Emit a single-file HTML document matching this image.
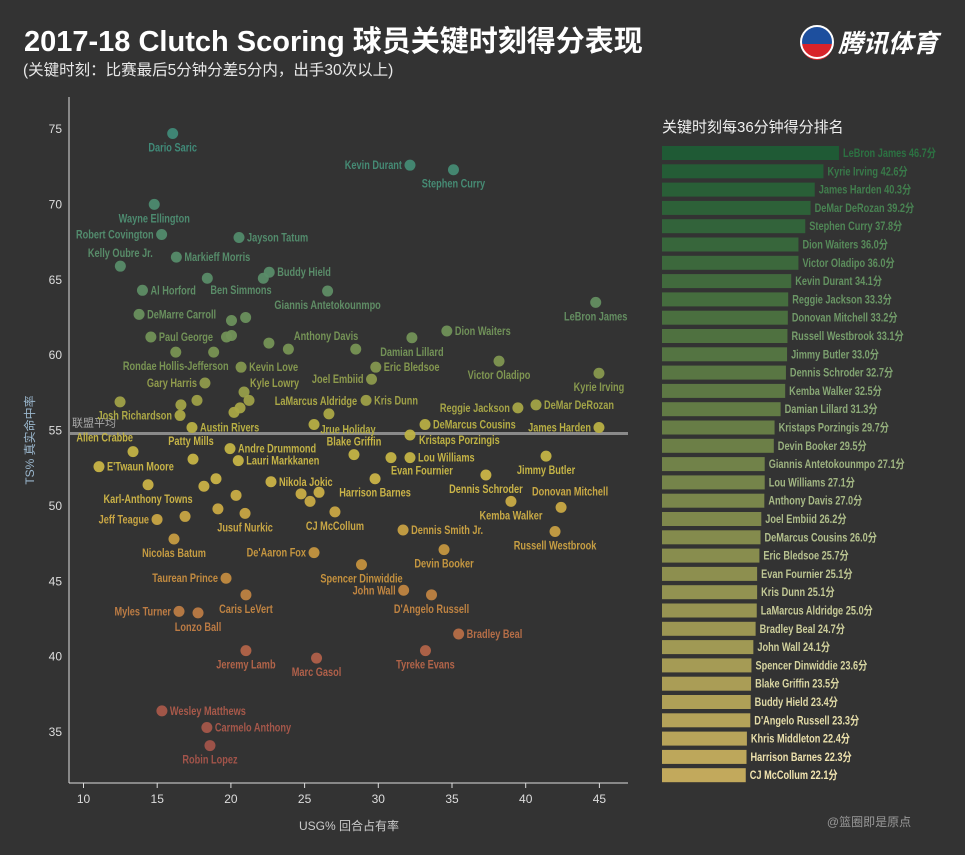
<!DOCTYPE html>
<html><head><meta charset="utf-8">
<style>
html,body{margin:0;padding:0;background:#333333;width:965px;height:855px;overflow:hidden}
svg{display:block}
text{font-family:"Liberation Sans Narrow","Liberation Sans","Noto Sans CJK SC",sans-serif}
.cjk{font-family:"Liberation Sans","Noto Sans CJK SC",sans-serif}
</style></head>
<body>
<svg id="chart" width="965" height="855" viewBox="0 0 965 855" xmlns="http://www.w3.org/2000/svg">
<rect width="965" height="855" fill="#333333"/>
<text class="cjk" x="24" y="51" font-size="29" font-weight="bold" fill="#ffffff">2017-18 Clutch Scoring 球员关键时刻得分表现</text>
<text class="cjk" x="23" y="75" font-size="15.5" fill="#e8e8e8">(关键时刻：比赛最后5分钟分差5分内，出手30次以上)</text>
<g>
<circle cx="817" cy="42" r="16" fill="#1d4f9e"/>
<path d="M801,44 A16,16 0 0 0 833,44 Z" fill="#d8232a"/>
<circle cx="817" cy="42" r="16" fill="none" stroke="#fff" stroke-width="2"/>
<text class="cjk" x="838" y="52" font-size="25" font-weight="bold" font-style="italic" fill="#ffffff">腾讯体育</text>
</g>
<g id="axes"></g>
<g id="points"></g>
<g id="bars"></g>
<text class="cjk" x="349" y="830" font-size="12" fill="#cccccc" text-anchor="middle">USG% 回合占有率</text>
<text class="cjk" x="0" y="0" font-size="12" fill="#9ab6cc" text-anchor="middle" transform="translate(34,440) rotate(-90)">TS% 真实命中率</text>
<text class="cjk" x="662" y="132" font-size="15" fill="#f0f0f0">关键时刻每36分钟得分排名</text>
<text class="cjk" x="869" y="826" font-size="12" fill="#999999" text-anchor="middle">@篮圈即是原点</text>
</svg>
<script>
const NS="http://www.w3.org/2000/svg";
const xTicks=[10,15,20,25,30,35,40,45];
const yTicks=[35,40,45,50,55,60,65,70,75];
const leagueAvgTS=54.8;
const players=["Dario Saric","Kevin Durant","Stephen Curry","Wayne Ellington","Robert Covington","Jayson Tatum","Markieff Morris","Kelly Oubre Jr.","Buddy Hield","","Ben Simmons","Al Horford","Giannis Antetokounmpo","LeBron James","DeMarre Carroll","","","Paul George","","","Dion Waiters","Damian Lillard","Anthony Davis","","","Rondae Hollis-Jefferson","","Kevin Love","Eric Bledsoe","Victor Oladipo","Joel Embiid","Kyrie Irving","Gary Harris","Kyle Lowry","","","","","","Josh Richardson","","LaMarcus Aldridge","Jrue Holiday","Kris Dunn","Reggie Jackson","DeMar DeRozan","DeMarcus Cousins","James Harden","Austin Rivers","Kristaps Porzingis","Allen Crabbe","Patty Mills","Andre Drummond","E'Twaun Moore","Lauri Markkanen","Blake Griffin","Evan Fournier","Lou Williams","Jimmy Butler","Harrison Barnes","Dennis Schroder","Kemba Walker","Donovan Mitchell","","","Karl-Anthony Towns","Nikola Jokic","","","","","","Jeff Teague","","Jusuf Nurkic","CJ McCollum","Dennis Smith Jr.","Russell Westbrook","Nicolas Batum","De'Aaron Fox","Devin Booker","Spencer Dinwiddie","Taurean Prince","Caris LeVert","John Wall","D'Angelo Russell","Myles Turner","Lonzo Ball","Bradley Beal","Jeremy Lamb","Marc Gasol","Tyreke Evans","Wesley Matthews","Carmelo Anthony","Robin Lopez"];
const usg=[16.05,32.15,35.1,14.8,15.3,20.55,16.3,12.5,22.6,22.2,18.4,14.0,26.56,44.75,13.77,20.04,21.0,14.57,19.7,20.04,34.65,32.28,22.58,23.9,28.47,16.26,18.83,20.69,29.83,38.19,29.54,44.97,18.24,20.89,21.23,20.62,20.21,17.7,16.61,16.55,12.48,26.65,25.64,29.17,39.47,40.7,33.17,44.97,17.36,32.15,13.36,17.43,19.94,11.05,20.5,28.35,30.86,32.15,41.38,29.78,37.3,39.0,42.4,18.99,18.17,14.38,22.72,20.35,24.76,25.98,25.37,19.12,14.99,16.89,20.96,27.06,31.68,41.99,16.14,25.64,34.46,28.86,19.67,21.02,31.72,33.61,16.48,17.77,35.45,21.02,25.81,33.2,15.32,18.37,18.58];
const ts=[74.7,72.6,72.3,70.0,68.0,67.8,66.5,65.9,65.5,65.1,65.1,64.3,64.25,63.5,62.7,62.3,62.5,61.2,61.2,61.3,61.6,61.15,60.8,60.4,60.4,60.2,60.2,59.2,59.2,59.6,58.4,58.8,58.15,57.55,57.0,56.5,56.2,57.0,56.7,56.0,56.9,56.1,55.4,57.0,56.5,56.7,55.4,55.2,55.2,54.7,53.6,53.1,53.8,52.6,53.0,53.4,53.2,53.2,53.3,51.8,52.05,50.3,49.9,51.8,51.3,51.4,51.6,50.7,50.8,50.9,50.3,49.8,49.1,49.3,49.5,49.6,48.4,48.3,47.8,46.9,47.1,46.1,45.2,44.1,44.4,44.1,43.0,42.9,41.5,40.4,39.9,40.4,36.4,35.3,34.1];
const labelPlacement=["b","l","b","b","l","r","r","t","r","","ben","r","b","b","r","","","r","","","r","b","ad","","","b","","r","r","b","l","b","l","kl","","","","","","l","","lma","jh","r","l","r","r","l","r","kp","ac","pm","r","r","r","t","ef","r","b","b","b","b","dm","","","b","r","","","","","","l","","b","b","r","b","b","l","b","b","l","b","l","b","l","b","r","b","b","b","r","r","b"];
const customLabel={ben:[3,16,"start"],ad:[25,-3,"start"],kl:[6,-5,"start"],lma:[-13,-9,"middle"],jh:[34,9,"middle"],kp:[9,9,"start"],ac:[0,-10,"end"],pm:[-2,-14,"middle"],ef:[0,17,"start"],dm:[9,-12,"middle"]};

const barNames=["LeBron James","Kyrie Irving","James Harden","DeMar DeRozan","Stephen Curry","Dion Waiters","Victor Oladipo","Kevin Durant","Reggie Jackson","Donovan Mitchell","Russell Westbrook","Jimmy Butler","Dennis Schroder","Kemba Walker","Damian Lillard","Kristaps Porzingis","Devin Booker","Giannis Antetokounmpo","Lou Williams","Anthony Davis","Joel Embiid","DeMarcus Cousins","Eric Bledsoe","Evan Fournier","Kris Dunn","LaMarcus Aldridge","Bradley Beal","John Wall","Spencer Dinwiddie","Blake Griffin","Buddy Hield","D'Angelo Russell","Khris Middleton","Harrison Barnes","CJ McCollum"];
const barValues=[46.7,42.6,40.3,39.2,37.8,36.0,36.0,34.1,33.3,33.2,33.1,33.0,32.7,32.5,31.3,29.7,29.5,27.1,27.1,27.0,26.2,26.0,25.7,25.1,25.1,25.0,24.7,24.1,23.6,23.5,23.4,23.3,22.4,22.3,22.1];

const xS=v=>83.5+(v-10)*14.74;
const yS=v=>129+(75-v)*15.075;
const barX=662, barScale=3.79, barTop=146, barPitch=18.3, barH=14;
const NARROW=0.8;

function hex(c){return [parseInt(c.slice(1,3),16),parseInt(c.slice(3,5),16),parseInt(c.slice(5,7),16)];}
function mix(a,b,t){const A=hex(a),B=hex(b);return "rgb("+A.map((v,i)=>Math.round(v+(B[i]-v)*t)).join(",")+")";}
const cStops=[[34,"#a2544a"],[40,"#b0604a"],[43,"#bc7c44"],[46,"#c4903e"],[49,"#c8a444"],[52,"#cbb548"],[55,"#bcb244"],[57,"#9ea048"],[60,"#7a9452"],[65,"#5a8c68"],[75,"#3f8a78"]];
function tsColor(v){for(let i=0;i<cStops.length-1;i++){if(v<=cStops[i+1][0]){const t=Math.max(0,(v-cStops[i][0])/(cStops[i+1][0]-cStops[i][0]));return mix(cStops[i][1],cStops[i+1][1],t);}}return cStops[cStops.length-1][1];}
function el(tag,attrs,parent){const e=document.createElementNS(NS,tag);for(const k in attrs)e.setAttribute(k,attrs[k]);parent.appendChild(e);return e;}

const axes=document.getElementById("axes");
const yAxisLine=el("line",{x1:69,y1:97,x2:69,y2:783,stroke:"#dddddd","stroke-width":1},axes);


const xAxisLine=el("line",{x1:69,y1:783,x2:628,y2:783,stroke:"#dddddd","stroke-width":1},axes);


xTicks.forEach(v=>{
  const t=el("line",{x1:xS(v),y1:783,x2:xS(v),y2:788,stroke:"#dddddd"},axes);
  
  
  const l=el("text",{x:xS(v),y:803,"font-size":12,fill:"#dddddd","text-anchor":"middle"},axes);
  l.textContent=v;
  
  
});
yTicks.forEach(v=>{
  const l=el("text",{x:62,y:yS(v)+4,"font-size":12,fill:"#dddddd","text-anchor":"end"},axes);
  l.textContent=v;
  
  
});
const avg=el("line",{x1:69,y1:yS(leagueAvgTS),x2:628,y2:yS(leagueAvgTS),stroke:"#8a8a8a","stroke-width":3},axes);


const avgL=el("text",{x:72,y:yS(leagueAvgTS)-7,"font-size":11,fill:"#aaaaaa",class:"cjk"},axes);
avgL.textContent="联盟平均";



const pts=document.getElementById("points");
usg.forEach((u,i)=>{
  const cx=xS(u), cy=yS(ts[i]), col=tsColor(ts[i]);
  const c=el("circle",{cx:cx,cy:cy,r:5.5,fill:col,"fill-opacity":0.95},pts);
  
  
  if(!players[i])return;
  const p=labelPlacement[i];let dx=0,dy=0,anc="middle";
  if(p==="r"){dx=8;dy=4;anc="start";}
  else if(p==="l"){dx=-8;dy=4;anc="end";}
  else if(p==="b"){dx=0;dy=18;}
  else if(p==="t"){dx=0;dy=-9;}
  else if(customLabel[p]){[dx,dy,anc]=customLabel[p];}
  const t=el("text",{x:0,y:0,transform:"translate("+(cx+dx)+","+(cy+dy)+") scale("+NARROW+",1)","font-size":11.5,"font-weight":"bold",fill:col,"text-anchor":anc},pts);
  t.textContent=players[i];
  
  
});

const bars=document.getElementById("bars");
const n=barValues.length;
barValues.forEach((v,i)=>{
  const t=i/(n-1);
  const y=barTop+i*barPitch;
  const r=el("rect",{x:barX,y:y,width:v*barScale,height:barH,fill:mix("#1f5a35","#c2a95c",t)},bars);
  
  
  const l=el("text",{x:0,y:0,transform:"translate("+(barX+v*barScale+4)+","+(y+11)+") scale("+NARROW+",1)","font-size":11.5,"font-weight":"bold",fill:mix("#2c7242","#f2e4b0",Math.pow(t,0.8)),class:"cjk"},bars);
  l.textContent=barNames[i]+" "+v.toFixed(1)+"分";
  
  
});
</script>
</body></html>
